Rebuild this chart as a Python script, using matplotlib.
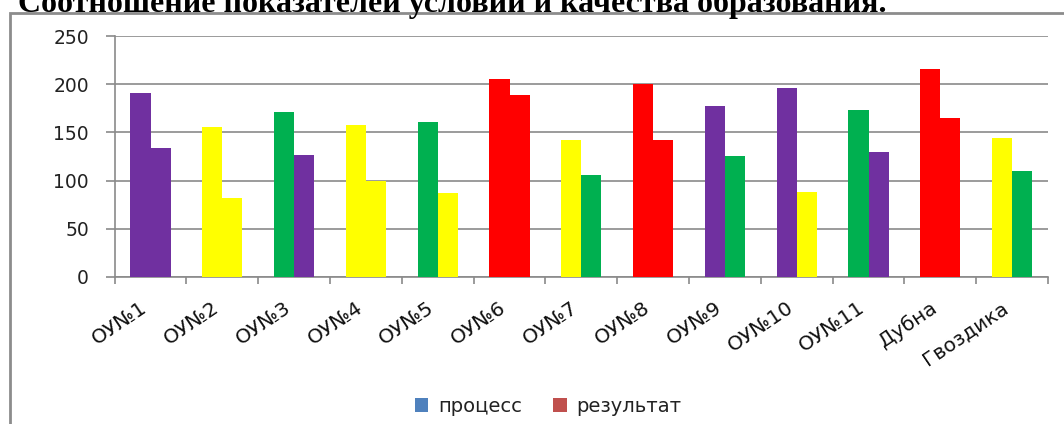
import matplotlib
matplotlib.use("Agg")
import matplotlib.pyplot as plt
from matplotlib.patches import Patch, Rectangle
import numpy as np

categories = ['ОУ№1', 'ОУ№2', 'ОУ№3', 'ОУ№4', 'ОУ№5', 'ОУ№6', 'ОУ№7',
              'ОУ№8', 'ОУ№9', 'ОУ№10', 'ОУ№11', 'Дубна', 'Гвоздика']
process = [191, 156, 171, 158, 161, 205, 142, 200, 177, 196, 173, 216, 144]
result = [134, 82, 127, 100, 87, 189, 106, 142, 126, 88, 130, 165, 110]

P, Y, G, R = '#7030A0', '#FFFF00', '#00B050', '#FF0000'
process_colors = [P, Y, G, Y, G, R, Y, R, P, P, G, R, Y]
result_colors = [P, Y, P, Y, Y, R, G, R, G, Y, P, R, G]

series_names = ['процесс', 'результат']
legend_colors = ['#4F81BD', '#C0504D']
yticks = [0, 50, 100, 150, 200, 250]

title = 'Соотношение показателей условий и качества образования.'

W, H = 1064, 424
fig = plt.figure(figsize=(W / 100, H / 100), dpi=100)
fig.patch.set_facecolor('white')

# outer chart frame
frame = Rectangle((10 / W, -0.05), 1.2, 1 - 13.5 / H + 0.05, transform=fig.transFigure,
                  fill=False, edgecolor='#8c8c8c', linewidth=2.0, zorder=0)
fig.patches.append(frame)

fig.text(452 / W, 1 - 12 / H, title, family='Liberation Serif', fontweight='bold',
         fontsize=23, ha='center', va='baseline', color='black')

left, right = 114.7 / W, 1048 / W
bottom, top = 1 - 277 / H, 1 - 36 / H
ax = fig.add_axes([left, bottom, right - left, top - bottom])

x = np.arange(len(categories))
w = 0.28
ax.bar(x - w / 2, process, width=w, color=process_colors, edgecolor='none', zorder=3)
ax.bar(x + w / 2, result, width=w, color=result_colors, edgecolor='none', zorder=3)

ax.set_xlim(-0.5, len(categories) - 0.5)
ax.set_ylim(0, 250)
ax.set_yticks(yticks)
ax.set_yticklabels([str(v) for v in yticks], family='DejaVu Sans', fontsize=13.5, color='#222222')
ax.yaxis.grid(True, color='#8a8a8a', linewidth=1.2)
ax.set_axisbelow(True)

ax.set_xticks(x)
ax.set_xticklabels(categories, rotation=34, ha='right', va='top', family='DejaVu Sans',
                   fontsize=14.5, color='#111111')
ax.tick_params(axis='x', which='major', length=0, pad=15)
ax.set_xticks(np.arange(-0.5, len(categories), 1.0), minor=True)
ax.tick_params(axis='x', which='minor', length=5, width=1.2, color='#8a8a8a', direction='out')
ax.tick_params(axis='y', length=6.5, width=1.2, color='#8a8a8a', direction='out', pad=12)

for s in ['top', 'right']:
    ax.spines[s].set_visible(False)
for s in ['left', 'bottom']:
    ax.spines[s].set_color('#8a8a8a')
    ax.spines[s].set_linewidth(1.2)

handles = [Patch(facecolor=c, edgecolor='none', label=n) for c, n in zip(legend_colors, series_names)]
fig.legend(handles=handles, loc='center', bbox_to_anchor=(548 / W, 1 - 406 / H), ncol=2,
           frameon=False, prop={'family': 'DejaVu Sans', 'size': 14},
           handlelength=0.7, handleheight=0.7, handletextpad=0.5, columnspacing=1.6,
           labelcolor='#222222')

fig.savefig('out.png', dpi=100, facecolor='white')
